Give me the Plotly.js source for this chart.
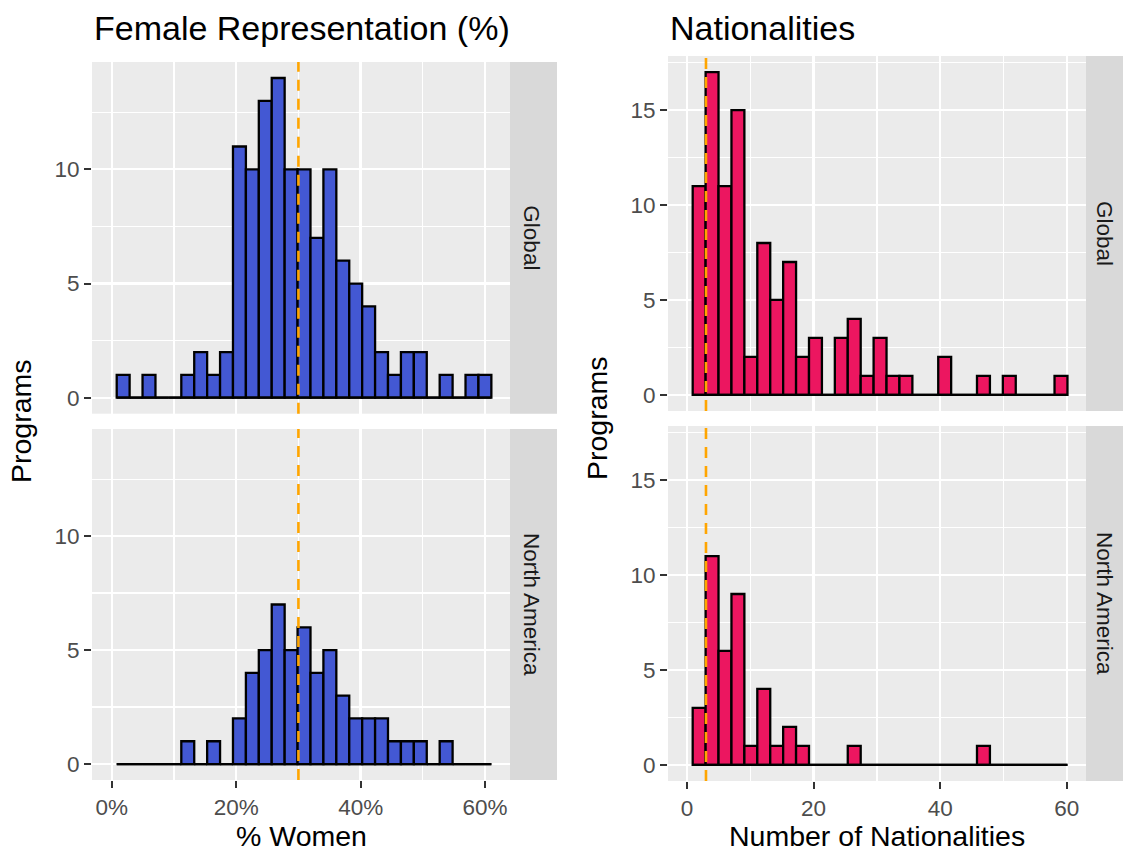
<!DOCTYPE html>
<html>
<head>
<meta charset="utf-8">
<script src="https://cdn.plot.ly/plotly-3.0.1.min.js"></script>
<style>
html,body{margin:0;padding:0;background:#fff;}
#chart{width:1123px;height:852px;}
</style>
</head>
<body>
<div id="chart"></div>
<script>
// ---- data ----
const facets = ["Global", "North America"];

// % women histogram (29 bins)
const femaleBinStart = 0.8;
const femaleBinWidth = 2.076;
const femaleGlobal = [1,0,1,0,0,1,2,1,2,11,10,13,14,10,10,7,10,6,5,4,2,1,2,2,0,1,0,1,1];
const femaleNorthAmerica = [0,0,0,0,0,1,0,1,0,2,4,5,7,5,6,4,5,3,2,2,2,1,1,1,0,1,0,0,0];
const femaleReference = 30;
const femaleTickVals = [0,20,40,60];
const femaleTickText = ["0%","20%","40%","60%"];

// number of nationalities histogram (29 bins)
const natBinStart = 0.9;
const natBinWidth = 2.0414;
const natGlobal = [11,17,11,15,2,8,5,7,2,3,0,3,4,1,3,1,1,0,0,2,0,0,1,0,1,0,0,0,1];
const natNorthAmerica = [3,11,6,9,1,4,1,2,1,0,0,0,1,0,0,0,0,0,0,0,0,0,1,0,0,0,0,0,0];
const natReference = 3;
const natTickVals = [0,20,40,60];
const natTickText = ["0","20","40","60"];

const yTicksLeft = [0,5,10];
const yTicksRight = [0,5,10,15];

// ---- styling ----
const FONT = "Liberation Sans, Arial, Helvetica, sans-serif";
const BLUE = "#4358D3";
const PINK = "#EC1660";
const W = 1123, H = 852;
const px = v => v / W;
const py = v => 1 - v / H;

function centers(start, width, n) {
  const c = [];
  for (let i = 0; i < n; i++) c.push(start + width * (i + 0.5));
  return c;
}

function histTraces(counts, start, width, color, xa, ya) {
  const n = counts.length;
  return [
    {
      type: "bar", x: centers(start, width, n), y: counts,
      width: counts.map(() => width),
      marker: {color: color, line: {color: "#000", width: 2.3}},
      xaxis: xa, yaxis: ya, hoverinfo: "skip", showlegend: false
    },
    {
      type: "scatter", mode: "lines",
      x: [start, start + width * n], y: [0, 0],
      line: {color: "#000", width: 2.3},
      xaxis: xa, yaxis: ya, hoverinfo: "skip", showlegend: false
    }
  ];
}

const data = [].concat(
  histTraces(femaleGlobal, femaleBinStart, femaleBinWidth, BLUE, "x", "y"),
  histTraces(femaleNorthAmerica, femaleBinStart, femaleBinWidth, BLUE, "x2", "y2"),
  histTraces(natGlobal, natBinStart, natBinWidth, PINK, "x3", "y3"),
  histTraces(natNorthAmerica, natBinStart, natBinWidth, PINK, "x4", "y4")
);

// panel geometry (pixels)
const L = {x0: 92, x1: 510}, R = {x0: 668, x1: 1086};
const LT = {y0: 62, y1: 413.7}, LB = {y0: 429, y1: 780};
const RT = {y0: 56, y1: 411}, RB = {y0: 426, y1: 781};

function xAxis(dom, range, vals, text, showLabels, anchor) {
  return {
    domain: [px(dom.x0), px(dom.x1)], range: range, anchor: anchor,
    tickmode: "array", tickvals: vals, ticktext: text,
    showticklabels: showLabels,
    ticks: showLabels ? "outside" : "", ticklen: 7, tickwidth: 2, tickcolor: "#333333",
    tickfont: {family: FONT, size: 22.5, color: "#4D4D4D"},
    showgrid: true, gridcolor: "#FFFFFF", gridwidth: 2.3,
    minor: {tickmode: "array", tickvals: [10,30,50], showgrid: true, gridcolor: "#FFFFFF", gridwidth: 1.2, ticks: ""},
    zeroline: false, showline: false, fixedrange: true
  };
}
function yAxis(dom, range, vals, minorVals, anchor) {
  return {
    domain: [py(dom.y1), py(dom.y0)], range: range, anchor: anchor,
    tickmode: "array", tickvals: vals,
    ticks: "outside", ticklen: 7, tickwidth: 2, tickcolor: "#333333",
    tickfont: {family: FONT, size: 22.5, color: "#4D4D4D"},
    showgrid: true, gridcolor: "#FFFFFF", gridwidth: 2.3,
    minor: {tickmode: "array", tickvals: minorVals, showgrid: true, gridcolor: "#FFFFFF", gridwidth: 1.2, ticks: ""},
    zeroline: false, showline: false, fixedrange: true
  };
}

const femaleRange = [-3.17, 64.0];
const natRange = [-3.0, 63.03];
const yLeftRange = [-0.7, 14.7];
const yRightRange = [-0.85, 17.85];

const layout = {
  width: W, height: H,
  margin: {l: 0, r: 0, t: 0, b: 0},
  paper_bgcolor: "#FFFFFF", plot_bgcolor: "#EBEBEB",
  bargap: 0, barmode: "overlay", showlegend: false,
  font: {family: FONT},
  xaxis:  xAxis(L, femaleRange, femaleTickVals, femaleTickText, false, "y"),
  yaxis:  yAxis(LT, yLeftRange, yTicksLeft, [2.5,7.5,12.5], "x"),
  xaxis2: xAxis(L, femaleRange, femaleTickVals, femaleTickText, true, "y2"),
  yaxis2: yAxis(LB, yLeftRange, yTicksLeft, [2.5,7.5,12.5], "x2"),
  xaxis3: xAxis(R, natRange, natTickVals, natTickText, false, "y3"),
  yaxis3: yAxis(RT, yRightRange, yTicksRight, [2.5,7.5,12.5,17.5], "x3"),
  xaxis4: xAxis(R, natRange, natTickVals, natTickText, true, "y4"),
  yaxis4: yAxis(RB, yRightRange, yTicksRight, [2.5,7.5,12.5,17.5], "x4"),
  shapes: [],
  annotations: []
};

// reference lines
[["x","y",femaleReference],["x2","y2",femaleReference],["x3","y3",natReference],["x4","y4",natReference]].forEach(([xa, ya, v]) => {
  layout.shapes.push({
    type: "line", xref: xa, yref: ya + " domain", x0: v, x1: v, y0: 0, y1: 1,
    line: {color: "#FFA500", width: 2.6, dash: "11px,8px"}, layer: "above"
  });
});

// facet strips
function strip(x0, x1, y0, y1, label) {
  layout.shapes.push({
    type: "rect", xref: "paper", yref: "paper",
    x0: px(x0), x1: px(x1), y0: py(y1), y1: py(y0),
    fillcolor: "#D9D9D9", line: {width: 0}, layer: "below"
  });
  layout.annotations.push({
    xref: "paper", yref: "paper", x: px((x0 + x1) / 2 - 2), y: py((y0 + y1) / 2),
    text: label, showarrow: false, textangle: 90,
    xanchor: "center", yanchor: "middle",
    font: {family: FONT, size: 22.5, color: "#1A1A1A"}
  });
}
strip(510, 557, LT.y0, LT.y1, facets[0]);
strip(510, 557, LB.y0, LB.y1, facets[1]);
strip(1086, 1127, RT.y0, RT.y1, facets[0]);
strip(1086, 1127, RB.y0, RB.y1, facets[1]);

// titles
function txt(x, y, text, size, opts) {
  layout.annotations.push(Object.assign({
    xref: "paper", yref: "paper", x: px(x), y: py(y), text: text, showarrow: false,
    xanchor: "center", yanchor: "middle",
    font: {family: FONT, size: size, color: "#000000"}
  }, opts || {}));
}
txt(92, 28, "Female Representation (%)", 34, {xanchor: "left"});
txt(668, 28, "Nationalities", 34, {xanchor: "left"});
txt(301, 836, "% Women", 28.5);
txt(877, 836, "Number of Nationalities", 28.5);
txt(21, 421, "Programs", 28.5, {textangle: -90});
txt(597, 418, "Programs", 28.5, {textangle: -90});

Plotly.newPlot("chart", data, layout, {staticPlot: true, displayModeBar: false});
</script>
</body>
</html>
